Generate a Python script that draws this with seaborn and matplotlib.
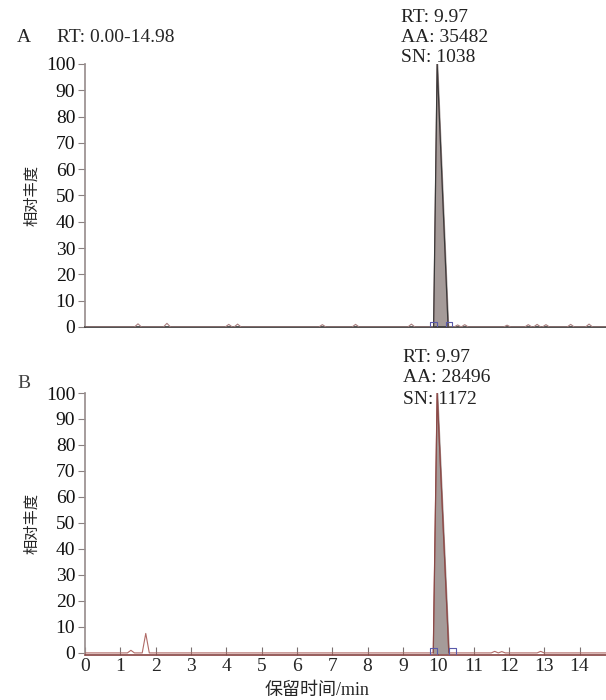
import matplotlib
matplotlib.use("Agg")
import matplotlib.pyplot as plt
import seaborn as sns
import pandas as pd

# main peak (time, relative abundance) for each run
peak_a_t = [9.87, 9.97, 10.28]
peak_a_y = [0, 100, 0]
peak_b_t = [9.86, 9.97, 10.30]
peak_b_y = [0, 100, 0]

# small noise peaks: centres (min) and heights (%)
bumps_a_t = [1.50, 2.32, 4.07, 4.32, 6.72, 7.66, 9.24, 10.55, 10.75, 11.95, 12.55, 12.8, 13.05, 13.75, 14.27]
bumps_a_y = [1.2, 1.4, 1.0, 1.1, 0.9, 1.0, 1.1, 0.8, 0.9, 0.7, 0.9, 1.0, 0.9, 1.0, 1.1]
bumps_b_t = [1.30, 1.72, 11.6, 11.8, 12.9]
bumps_b_y = [1.0, 7.5, 0.6, 0.5, 0.6]

# peak boundary markers
bound_a = [9.87, 10.30]
bound_b = [9.86, 10.40]

info_a = ["RT: 9.97", "AA: 35482", "SN: 1038"]
info_b = ["RT: 9.97", "AA: 28496", "SN: 1172"]
xticks = list(range(0, 15))
yticks = list(range(0, 101, 10))

sns.set_theme(style="white")
plt.rcParams['font.family'] = ['Liberation Serif', 'Noto Sans CJK SC']
plt.rcParams['axes.unicode_minus'] = False


def trace(bt, by, pt, py, width=0.1):
    # baseline with small triangular bumps and the main peak
    pts = [(0.0, 0.0), (14.98, 0.0)]
    for t, h in zip(bt, by):
        pts += [(t - width, 0.0), (t, h), (t + width, 0.0)]
    pts += list(zip(pt, py))
    df = pd.DataFrame(pts, columns=["t", "y"]).sort_values("t", kind="stable")
    return df


fig = plt.figure(figsize=(6.06, 7.0), dpi=100)
ax_a = fig.add_axes([85 / 606, 1 - 327 / 700, 1 - 85 / 606, 263 / 700])
ax_b = fig.add_axes([85 / 606, 1 - 655 / 700, 1 - 85 / 606, 262 / 700])

panels = [
    (ax_a, peak_a_t, peak_a_y, bumps_a_t, bumps_a_y, bound_a, "#3a3a3a", "#a88080"),
    (ax_b, peak_b_t, peak_b_y, bumps_b_t, bumps_b_y, bound_b, "#8a4a48", "#b06a66"),
]

for ax, pt, py, bt, by, bnd, lc, bc in panels:
    df = trace(bt, by, pt, py)
    ax.fill_between(pt, py, color="#a59b99", zorder=2)
    sns.lineplot(data=df, x="t", y="y", ax=ax, estimator=None, sort=False,
                 color=bc, linewidth=0.8, zorder=3)
    sns.lineplot(x=pt, y=py, ax=ax, estimator=None, sort=False,
                 color=lc, linewidth=0.9, zorder=4)
    sns.scatterplot(x=bnd, y=[0.6, 0.6], ax=ax, marker="s", s=22,
                    facecolor="none", edgecolor="#5a5aaa", linewidth=0.8, zorder=5)
    ax.set_xlim(0, 14.75)
    ax.set_ylim(-0.8, 100)
    ax.set_yticks(yticks)
    ax.set_yticklabels([str(v) for v in yticks], fontsize=14)
    ax.set_xlabel("")
    ax.set_ylabel("相对丰度", fontsize=11, family=['Noto Sans CJK SC'],
                  fontweight='light')
    ax.yaxis.set_label_coords(-0.086, 0.5)
    for s in ["top", "right"]:
        ax.spines[s].set_visible(False)
    ax.spines["left"].set_color("#9a9090")
    ax.spines["bottom"].set_color(lc)
    ax.spines["left"].set_bounds(0, 100)
    ax.tick_params(axis="y", direction="out", length=5, width=0.8, color="#8a8080",
                   left=True, pad=2, labelcolor="#111111")
    ax.grid(False)

ax_a.set_xticks([])
ax_a.set_ylim(0, 100)
ax_b.set_xticks(xticks)
ax_b.set_xticklabels([str(v) for v in xticks], fontsize=14)
ax_b.tick_params(axis="x", direction="in", length=6, width=0.8, color="#7a7070",
                 bottom=True, pad=2)
ax_b.set_xlabel("保留时间/min", fontsize=13)
ax_b.xaxis.set_label_coords(0.445, -0.102)

# annotations (figure pixel positions of each text line)
for lines, x0, ys in [(info_a, 401, [17, 37, 57]), (info_b, 403, [357, 378, 400])]:
    for s, yy in zip(lines, ys):
        fig.text(x0 / 606, 1 - yy / 700, s, fontsize=14, va="center", ha="left",
                 color="#222222")

fig.text(17 / 606, 1 - 37 / 700, "A", fontsize=14, va="center")
fig.text(57 / 606, 1 - 37 / 700, "RT: 0.00-14.98", fontsize=14, va="center")
fig.text(17 / 606, 1 - 383 / 700, "B", fontsize=14, va="center", color="#444444")

fig.savefig("out.png", dpi=100)
